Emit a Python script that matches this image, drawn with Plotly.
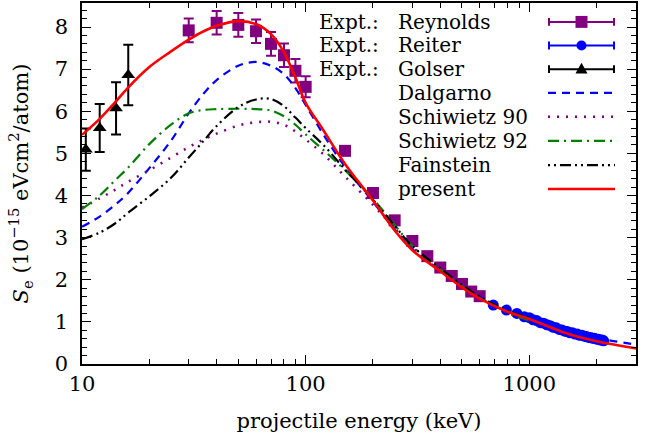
import plotly.graph_objects as go

# ---------------- data ----------------
reyn_E = [30, 40, 50, 60, 70, 80, 90, 100, 150, 200, 250, 300, 350, 400, 450, 500, 550, 600]
reyn_S = [7.92, 8.10, 8.05, 7.90, 7.60, 7.33, 6.96, 6.58, 5.06, 4.06, 3.41, 2.92, 2.56, 2.29, 2.09, 1.90, 1.72, 1.61]
reyn_err = [0.28, 0.28, 0.28, 0.28, 0.28, 0.28, 0.28, 0.25, 0.10, 0.08, 0.07, 0.06, 0.05, 0.05, 0.04, 0.04, 0.03, 0.03]

reit_E = [690, 790, 880, 950, 1000, 1040, 1080, 1120, 1160, 1200, 1240, 1280, 1320, 1360, 1400, 1440, 1480,
          1520, 1560, 1600, 1640, 1680, 1720, 1760, 1800, 1840, 1880, 1920, 1960, 2000, 2040, 2080, 2120, 2150]
reit_S = [1.40, 1.28, 1.20, 1.12, 1.10, 1.05, 1.03, 0.98, 0.97, 0.93, 0.91, 0.87, 0.86, 0.82, 0.81, 0.78, 0.77,
          0.74, 0.74, 0.71, 0.71, 0.68, 0.68, 0.66, 0.65, 0.63, 0.63, 0.61, 0.61, 0.59, 0.59, 0.57, 0.57, 0.55]

gols_E = [10.4, 12.0, 14.2, 16.1]
gols_S = [5.09, 5.60, 6.07, 6.86]
gols_err = [0.50, 0.57, 0.62, 0.72]

curve_E = [10, 12, 14, 16, 20, 25, 30, 35, 40, 50, 60, 70, 80, 90, 100, 120, 150, 200,
           250, 300, 400, 500, 600, 800, 1000, 1500, 2000, 3000]
present = [5.44, 5.82, 6.20, 6.55, 7.05, 7.42, 7.70, 7.90, 8.03, 8.14, 8.07, 7.83, 7.40, 6.80,
           6.20, 5.55, 4.75, 3.88, 3.17, 2.70, 2.20, 1.82, 1.55, 1.24, 1.07, 0.71, 0.54, 0.37]
dalgarno = [3.26, 3.50, 3.77, 4.05, 4.65, 5.30, 5.95, 6.42, 6.74, 7.08, 7.17, 7.08, 6.88, 6.55,
            6.15, 5.45, 4.68, 3.85, 3.20, 2.73, 2.22, 1.86, 1.60, 1.28, 1.10, 0.79, 0.62, 0.46]

th_E = [10, 12, 14, 16, 20, 25, 30, 35, 40, 50, 60, 70, 80, 90, 100, 120, 150, 200,
        250, 300, 400, 500, 600, 800, 1000]
schiwietz90 = [3.71, 3.93, 4.13, 4.32, 4.60, 4.90, 5.15, 5.33, 5.47, 5.66, 5.74, 5.75, 5.68, 5.52,
               5.33, 4.98, 4.45, 3.78, 3.22, 2.78, 2.22, 1.84, 1.56, 1.22, 1.02]
schiwietz92 = [3.68, 4.00, 4.35, 4.65, 5.22, 5.68, 5.95, 6.03, 6.05, 6.06, 6.05, 6.02, 5.88, 5.68,
               5.45, 5.08, 4.60, 3.92, 3.30, 2.80, 2.24, 1.85, 1.57, 1.23, 1.03]
fainstein = [2.96, 3.12, 3.33, 3.58, 3.98, 4.42, 4.90, 5.30, 5.65, 6.10, 6.28, 6.29, 6.12, 5.85,
             5.60, 5.20, 4.62, 3.90, 3.28, 2.80, 2.27, 1.88, 1.60, 1.27, 1.10]

legend_prefix = "Expt.:"
legend_names = ["Reynolds", "Reiter", "Golser", "Dalgarno",
                "Schiwietz 90", "Schiwietz 92", "Fainstein", "present"]

x_major = [10, 100, 1000]
x_minor = [20, 30, 40, 50, 60, 70, 80, 90, 200, 300, 400, 500, 600, 700, 800, 900, 2000, 3000]

# ---------------- style ----------------
PURPLE, BLUE, BLACK, GREEN, RED = "#800080", "#0000ff", "#000000", "#008000", "#ff0000"
FONT = "DejaVu Serif"
FS_AX, FS_LEG = 21, 20
W, H = 654, 440
ML, MR, MT, MB = 82, 18, 1, 76

fig = go.Figure()

fig.add_trace(go.Scatter(x=reyn_E, y=reyn_S, mode="markers",
                         marker=dict(symbol="square", size=12, color=PURPLE),
                         error_y=dict(type="data", array=reyn_err, color=PURPLE, thickness=2, width=5),
                         showlegend=False))
fig.add_trace(go.Scatter(x=reit_E, y=reit_S, mode="markers",
                         marker=dict(symbol="circle", size=11, color=BLUE),
                         showlegend=False))
fig.add_trace(go.Scatter(x=gols_E, y=gols_S, mode="markers",
                         marker=dict(symbol="triangle-up", size=12, color=BLACK),
                         error_y=dict(type="data", array=gols_err, color=BLACK, thickness=2, width=5),
                         showlegend=False))

fig.add_trace(go.Scatter(x=curve_E, y=dalgarno, mode="lines", line_shape="spline",
                         line=dict(color=BLUE, width=2.2, dash="8px,6px"), showlegend=False))
fig.add_trace(go.Scatter(x=th_E, y=schiwietz90, mode="lines", line_shape="spline",
                         line=dict(color=PURPLE, width=2.5, dash="2px,7px"), showlegend=False))
fig.add_trace(go.Scatter(x=th_E, y=schiwietz92, mode="lines", line_shape="spline",
                         line=dict(color=GREEN, width=2.2, dash="11px,5px,2px,5px"), showlegend=False))
fig.add_trace(go.Scatter(x=th_E, y=fainstein, mode="lines", line_shape="spline",
                         line=dict(color=BLACK, width=2.2, dash="11px,4px,2px,4px,2px,4px"), showlegend=False))
fig.add_trace(go.Scatter(x=curve_E, y=present, mode="lines", line_shape="spline",
                         line=dict(color=RED, width=2.6), showlegend=False))

# ---------------- manual legend (text left, sample right) ----------------
PW, PH = W - ML - MR, H - MT - MB
def px(x):
    return (x - ML) / PW
def py(y):
    return (H - MB - y) / PH

rows = [20, 43.7, 67.5, 91.3, 115.5, 139.6, 164, 188]
xs0, xs1, xm = 548, 615, 581.5
X_PREFIX, X_NAME = 318, 397
shapes = []
annotations = []
for i, r in enumerate(rows):
    if i < 3:
        annotations.append(dict(x=px(X_PREFIX), y=py(r), xref="paper", yref="paper", text=legend_prefix,
                                showarrow=False, xanchor="left", yanchor="middle", borderpad=0,
                                font=dict(family=FONT, size=FS_LEG, color="black")))
    annotations.append(dict(x=px(X_NAME), y=py(r), xref="paper", yref="paper", text=legend_names[i],
                            showarrow=False, xanchor="left", yanchor="middle", borderpad=0,
                            font=dict(family=FONT, size=FS_LEG, color="black")))

def hline(r, color, width, dash="solid"):
    shapes.append(dict(type="line", xref="paper", yref="paper", x0=px(xs0), x1=px(xs1),
                       y0=py(r), y1=py(r), line=dict(color=color, width=width, dash=dash)))

def caps(r, color):
    for xx in (xs0 + 1, xs1 - 1):
        shapes.append(dict(type="line", xref="paper", yref="paper", x0=px(xx), x1=px(xx),
                           y0=py(r - 4), y1=py(r + 4), line=dict(color=color, width=2)))

# Reynolds
hline(rows[0], PURPLE, 2); caps(rows[0], PURPLE)
shapes.append(dict(type="rect", xref="paper", yref="paper", x0=px(xm - 6), x1=px(xm + 6),
                   y0=py(rows[0] - 6), y1=py(rows[0] + 6), fillcolor=PURPLE, line=dict(width=0)))
# Reiter
hline(rows[1], BLUE, 2); caps(rows[1], BLUE)
shapes.append(dict(type="circle", xref="paper", yref="paper", x0=px(xm - 5), x1=px(xm + 5),
                   y0=py(rows[1] - 5), y1=py(rows[1] + 5), fillcolor=BLUE, line=dict(width=0)))
# Golser
hline(rows[2], BLACK, 2); caps(rows[2], BLACK)
r = rows[2]
shapes.append(dict(type="path", xref="paper", yref="paper",
                   path=f"M {px(xm-6)},{py(r+4.5)} L {px(xm+6)},{py(r+4.5)} L {px(xm)},{py(r-6.5)} Z",
                   fillcolor=BLACK, line=dict(width=0)))
hline(rows[3], BLUE, 2.2, "8px,6px")
hline(rows[4], PURPLE, 2.5, "2px,7px")
hline(rows[5], GREEN, 2.2, "11px,5px,2px,5px")
hline(rows[6], BLACK, 2.2, "2px,4px,2px,4px,11px,4px")
hline(rows[7], RED, 2.6)

axis_common = dict(showline=True, linecolor="black", linewidth=1.5, mirror="allticks",
                   ticks="inside", tickcolor="black", tickwidth=1.2, ticklen=9,
                   showgrid=False, zeroline=False,
                   tickfont=dict(family=FONT, size=FS_AX, color="black"))

fig.update_xaxes(type="log", range=[1, 3.4771], tickvals=x_major, ticktext=[str(v) for v in x_major],
                 minor=dict(tickvals=x_minor, ticks="inside", ticklen=5, tickcolor="black", tickwidth=1.2),
                 title=dict(text="projectile energy (keV)", font=dict(family=FONT, size=FS_AX, color="black"),
                            standoff=18),
                 **axis_common)
fig.update_yaxes(range=[0, 8.57], tick0=0, dtick=1, ticklabelstandoff=8,
                 minor=dict(dtick=0.2, ticks="inside", ticklen=5, tickcolor="black", tickwidth=1.2),
                 title=dict(text="<i>S</i><sub>e</sub> (10<sup>−15</sup> eVcm<sup>2</sup>/atom)",
                            font=dict(family=FONT, size=FS_AX, color="black"), standoff=20),
                 **axis_common)

fig.update_layout(width=W, height=H, margin=dict(l=ML, r=MR, t=MT, b=MB, pad=0),
                  plot_bgcolor="white", paper_bgcolor="white",
                  shapes=shapes, annotations=annotations,
                  font=dict(family=FONT, size=FS_AX, color="black"))

fig.write_html("out.html")
